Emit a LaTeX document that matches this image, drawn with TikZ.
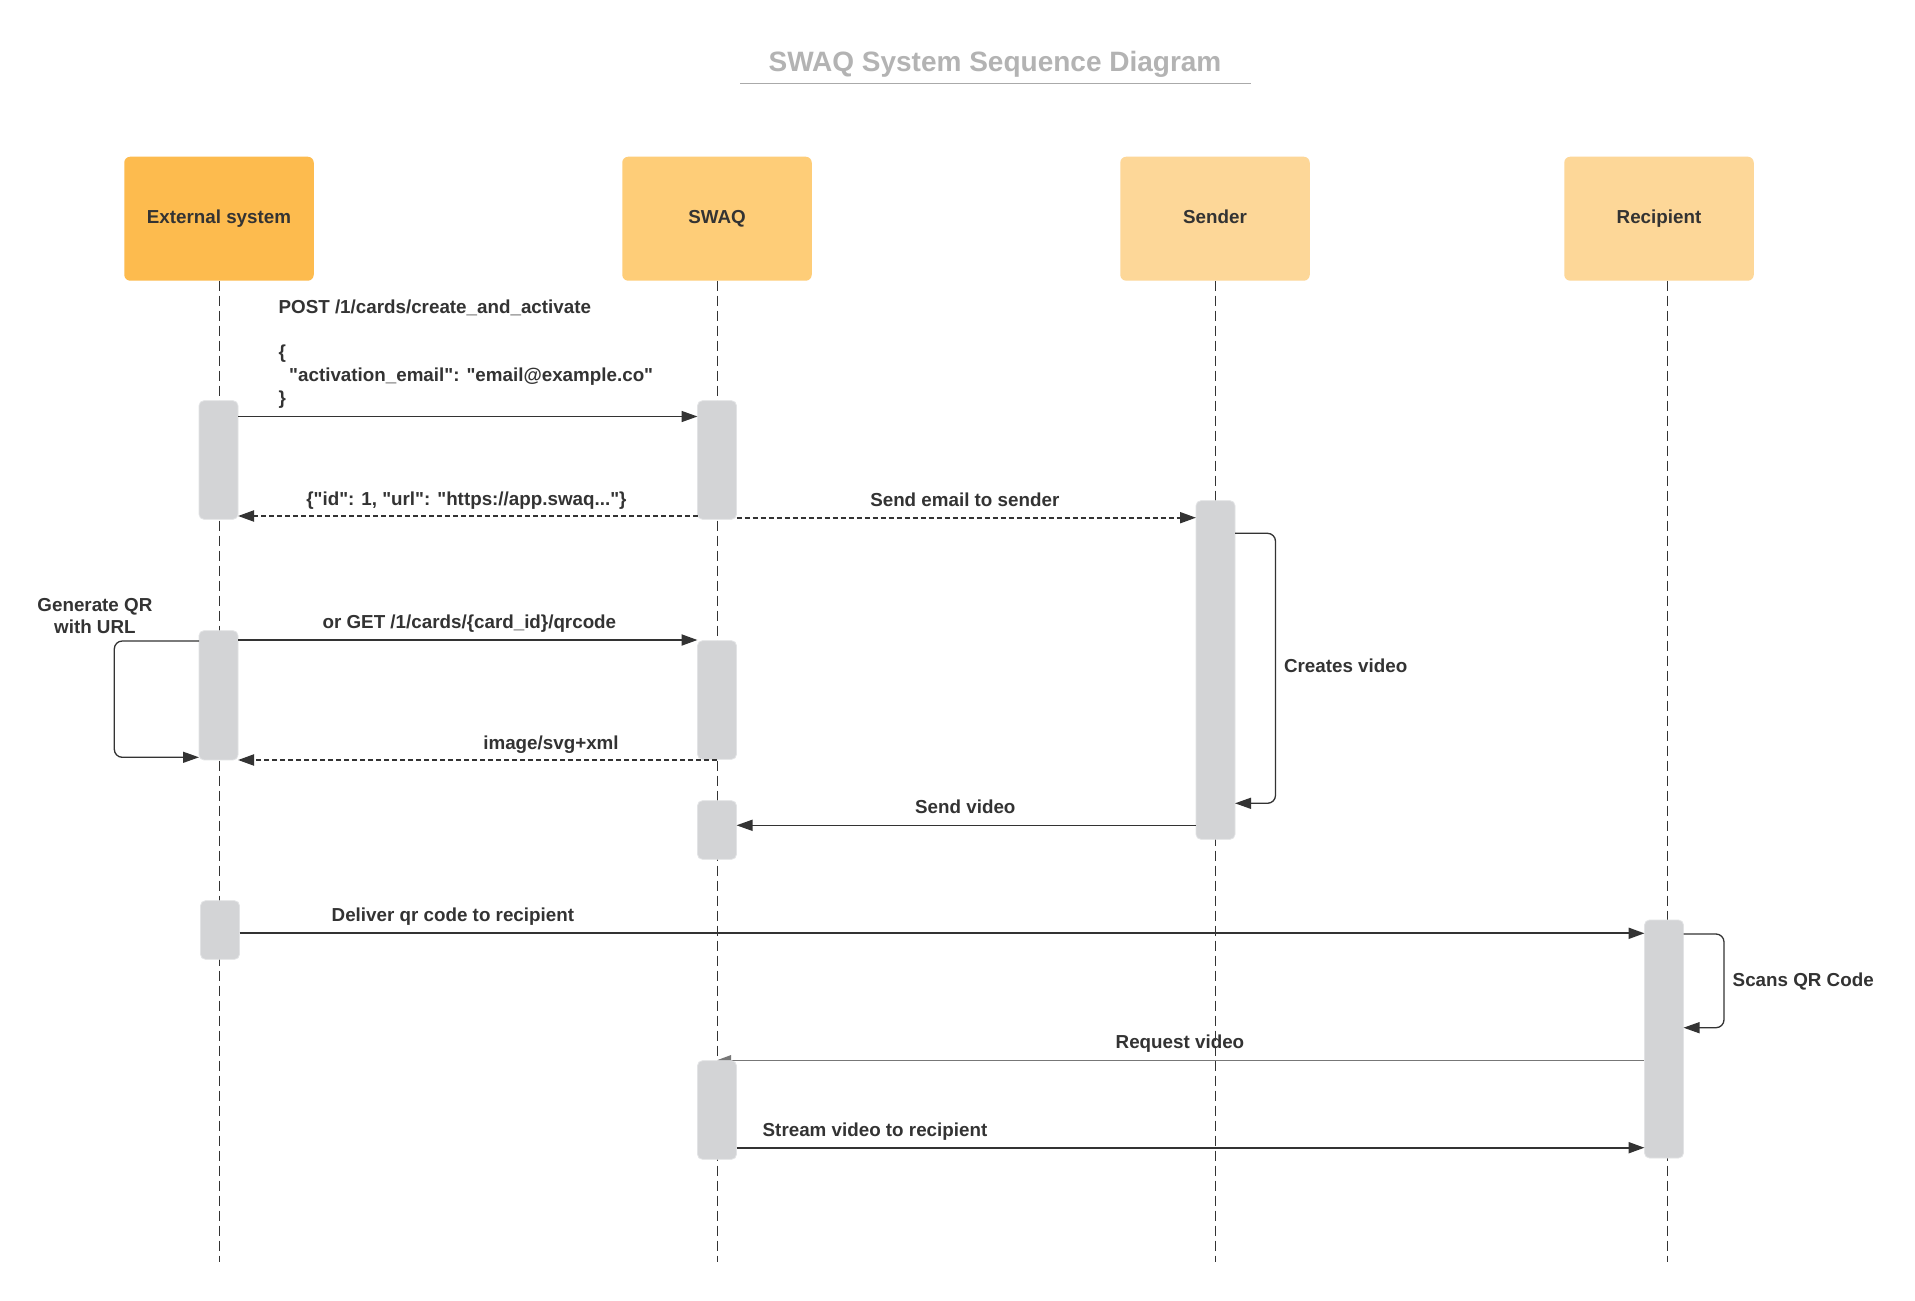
\documentclass[tikz,border=0pt]{standalone}
\usepackage{fontspec}
\setmainfont{Liberation Sans}[Ligatures=TeXOff]
\usetikzlibrary{arrows.meta}
\pgfdeclarelayer{bg}
\pgfsetlayers{bg,main}
\definecolor{ink}{HTML}{333333}
\definecolor{titlegrey}{HTML}{B3B3B3}
\definecolor{ruleg}{HTML}{AAAAAA}
\definecolor{extcol}{HTML}{FDBB4E}
\definecolor{swaqcol}{HTML}{FECD78}
\definecolor{personcol}{HTML}{FDD798}
\definecolor{barfill}{HTML}{D3D4D6}
\definecolor{barline}{HTML}{E2E3E5}
\definecolor{reqgrey}{HTML}{777777}
\newcommand\msgfont{\fontsize{18.8}{22.8}\selectfont\bfseries}
\newcommand\qrfont{\fontsize{18.8}{21.6}\selectfont\bfseries}
\newcommand\titlefont{\fontsize{28}{33}\selectfont\bfseries}
\begin{document}
\begin{tikzpicture}[x=1pt,y=-1pt,
  every node/.style={inner sep=0pt, outer sep=0pt},
  head/.style={rectangle, rounded corners=6pt, minimum width=189.5pt, minimum height=124pt, text=ink, font=\msgfont, text height=13.6pt, text depth=5pt},
  actbar/.style={rectangle, rounded corners=5pt, fill=barfill, draw=barline, line width=0.8pt, minimum width=39pt},
  lifeline/.style={draw=ink, line width=1pt, dash pattern=on 10pt off 5pt},
  msg/.style={draw=ink, line width=1.5pt, -{Triangle[length=16pt,width=11pt]}},
  bigmsg/.style={msg, line width=2pt},
  reply/.style={msg, line width=2pt, dash pattern=on 5pt off 3pt},
  reqmsg/.style={draw=reqgrey, line width=1.2pt, -{Triangle[length=14pt,width=10pt]}},
  selfloop/.style={draw=ink, line width=1.3pt, rounded corners=8pt, -{Triangle[length=16pt,width=11pt]}},
  lbl/.style={text=ink, font=\msgfont},
]
\useasboundingbox (0,0) rectangle (1915,1301);

% title
\node[text=titlegrey, font=\titlefont, anchor=base] (title) at (995,71.7) {SWAQ System Sequence Diagram};
\coordinate (ulA) at (740,83.3);
\coordinate (ulB) at (1250.7,83.3);
\draw[ruleg, line width=1.6pt] (ulA) -- (ulB);

% heads
\node[head, fill=extcol] (ext) at (219,218.7) {External system};
\node[head, fill=swaqcol] (swaq) at (717,218.7) {SWAQ};
\node[head, fill=personcol] (snd) at (1215,218.7) {Sender};
\node[head, fill=personcol] (rec) at (1659,218.7) {Recipient};

% activation bars
\node[actbar, minimum height=118.6pt] (eb1) at (218.5,460) {};
\node[actbar, minimum height=118.6pt] (sb1) at (717,460) {};
\node[actbar, minimum height=338.6pt] (snb) at (1215.5,670) {};
\node[actbar, minimum height=129.3pt] (eb2) at (218.5,695.3) {};
\node[actbar, minimum height=118.6pt] (sb2) at (717,700) {};
\node[actbar, minimum height=58.6pt] (sb3) at (717,830) {};
\node[actbar, minimum height=58.6pt] (eb3) at (220,930) {};
\node[actbar, minimum height=238pt] (rb) at (1664,1039) {};
\node[actbar, minimum height=98.6pt] (sb4) at (717,1110) {};

% message levels
\coordinate (m1) at (0,416.5);
\coordinate (m2) at (0,516);
\coordinate (m3) at (0,517.7);
\coordinate (m4) at (0,640);
\coordinate (m5) at (0,760);
\coordinate (m6) at (0,825.3);
\coordinate (m7) at (0,933.3);
\coordinate (m8) at (0,1060.2);
\coordinate (m9) at (0,1147.7);
\coordinate (lbot) at (0,1261.7);
\coordinate (rtop) at (1667,280.7);

\begin{pgfonlayer}{bg}
  \fill[white] (0,0) rectangle (1915,1301);
  \draw[lifeline] (ext.south) -- (ext.south |- lbot);
  \draw[lifeline] (swaq.south) -- (swaq.south |- lbot);
  \draw[lifeline] ([xshift=0.6pt]snd.south) -- ([xshift=0.6pt]snd.south |- lbot);
  \draw[lifeline] (rtop) -- (rtop |- lbot);
  \draw[reqmsg] (rb.west |- m8) -- (sb4.north |- m8);
\end{pgfonlayer}

% messages
\draw[msg] (eb1.east |- m1) -- (sb1.west |- m1);
\draw[reply] (sb1.west |- m2) -- (eb1.east |- m2);
\draw[reply] (sb1.east |- m3) -- (snb.west |- m3);
\draw[bigmsg] (eb2.east |- m4) -- (sb2.west |- m4);
\draw[reply] (sb2.south |- m5) -- (eb2.east |- m5);
\draw[msg] (snb.west |- m6) -- (sb3.east |- m6);
\draw[bigmsg] (eb3.east |- m7) -- (rb.west |- m7);
\draw[bigmsg] (sb4.east |- m9) -- (rb.west |- m9);

% self loops
\coordinate (cvA) at (1275.5,533.3);
\coordinate (cvB) at (1275.5,803.3);
\draw[selfloop] (snb.east |- cvA) -- (cvA) -- (cvB) -- (snb.east |- cvB);
\coordinate (gqA) at (114.3,641);
\coordinate (gqB) at (114.3,757.3);
\draw[selfloop] (eb2.west |- gqA) -- (gqA) -- (gqB) -- (eb2.west |- gqB);
\coordinate (sqA) at (1724,934);
\coordinate (sqB) at (1724,1027.7);
\draw[selfloop] (rb.east |- sqA) -- (sqA) -- (sqB) -- (rb.east |- sqB);

% labels
\node[lbl, anchor=base west, align=left] (postlbl) at (278.6,404.5)
  {POST /1/cards/create\_and\_activate\\ \mbox{}\\ \{\\ \hspace*{10.6pt}"activation\_email": "email@example.co"\\ \}};
\node[lbl, anchor=base] (idlbl) at (466.4,505) {\{"id": 1, "url": "https://app.swaq..."\}};
\node[lbl, anchor=base] (emaillbl) at (964.8,506) {Send email to sender};
\node[lbl, anchor=base, align=center, font=\qrfont] (qrlbl) at (94.9,633.3) {Generate QR\\with URL};
\node[lbl, anchor=base] (getlbl) at (469.4,628.3) {or GET /1/cards/\{card\_id\}/qrcode};
\node[lbl, anchor=base] (svglbl) at (551,749.3) {image/svg+xml};
\node[lbl, anchor=base west] (cvlbl) at (1284,672.7) {Creates video};
\node[lbl, anchor=base] (svlbl) at (965.3,813.3) {Send video};
\node[lbl, anchor=base west] (dellbl) at (331.7,921.7) {Deliver qr code to recipient};
\node[lbl, anchor=base west] (sqlbl) at (1732.7,986) {Scans QR Code};
\node[lbl, anchor=base west] (reqlbl) at (1115.7,1048.3) {Request video};
\node[lbl, anchor=base west] (strlbl) at (762.7,1136.7) {Stream video to recipient};
\end{tikzpicture}
\end{document}
